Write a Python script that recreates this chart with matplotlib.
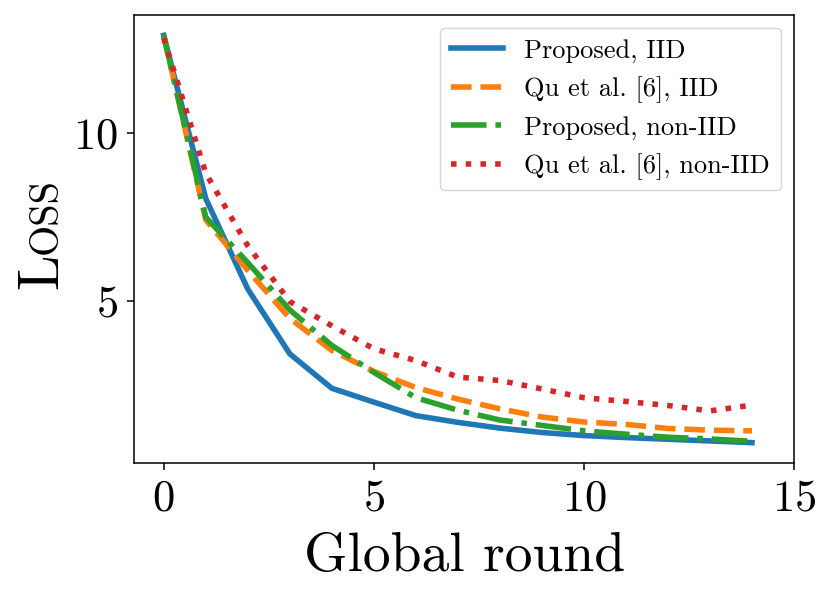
import matplotlib
matplotlib.use("Agg")
import matplotlib.pyplot as plt

plt.rcParams['font.family'] = ['cmr10', 'DejaVu Serif']
plt.rcParams['mathtext.fontset'] = 'cm'
plt.rcParams['axes.formatter.use_mathtext'] = True

rounds = list(range(15))
proposed_iid = [12.88, 8.05, 5.37, 3.45, 2.43, 2.02, 1.62, 1.42, 1.25, 1.12, 1.03, 0.97, 0.92, 0.87, 0.82]
qu_iid = [12.88, 7.42, 5.92, 4.50, 3.55, 2.93, 2.45, 2.11, 1.82, 1.58, 1.43, 1.36, 1.24, 1.19, 1.17]
proposed_noniid = [12.88, 7.50, 6.15, 4.75, 3.70, 2.90, 2.15, 1.78, 1.49, 1.33, 1.17, 1.07, 0.98, 0.93, 0.86]
qu_noniid = [12.80, 8.80, 6.65, 5.00, 4.28, 3.60, 3.25, 2.76, 2.66, 2.41, 2.15, 2.04, 1.92, 1.76, 1.93]

labels = ['Proposed, IID', 'Qu et al. [6], IID', 'Proposed, non-IID', 'Qu et al. [6], non-IID']
xticks = [0, 5, 10, 15]
yticks = [5, 10]

W, H = 831, 598
fig = plt.figure(figsize=(W / 100, H / 100), dpi=100)
ax = fig.add_axes([134.3 / W, 1 - 463 / H, (794 - 134.3) / W, (463 - 15) / H])

lw = 4.0
ax.plot(rounds, proposed_iid, color='#1f77b4', lw=lw, ls='-', label=labels[0])
ax.plot(rounds, qu_iid, color='#ff7f0e', lw=lw, ls='--', label=labels[1])
ax.plot(rounds, proposed_noniid, color='#2ca02c', lw=lw, ls='-.', label=labels[2])
ax.plot(rounds, qu_noniid, color='#d62728', lw=lw, ls=':', label=labels[3])

ax.set_xticks(xticks)
ax.set_yticks(yticks)
ax.set_xlim(-0.7, 15)
ax.tick_params(labelsize=32, length=5, width=1.1, pad=7)
for s in ax.spines.values():
    s.set_linewidth(1.1)

ax.set_xlabel('Global round', fontsize=40, labelpad=9)

# Small-caps style y label "Loss"
fig.text(57 / W, 1 - 289 / H, 'L', fontsize=41, rotation=90,
         rotation_mode='anchor', ha='left', va='baseline')
fig.text(57 / W, 1 - 254 / H, 'OSS', fontsize=29, rotation=90,
         rotation_mode='anchor', ha='left', va='baseline')

ax.legend(loc='upper right', fontsize=19)

fig.savefig('out.png', dpi=100)
